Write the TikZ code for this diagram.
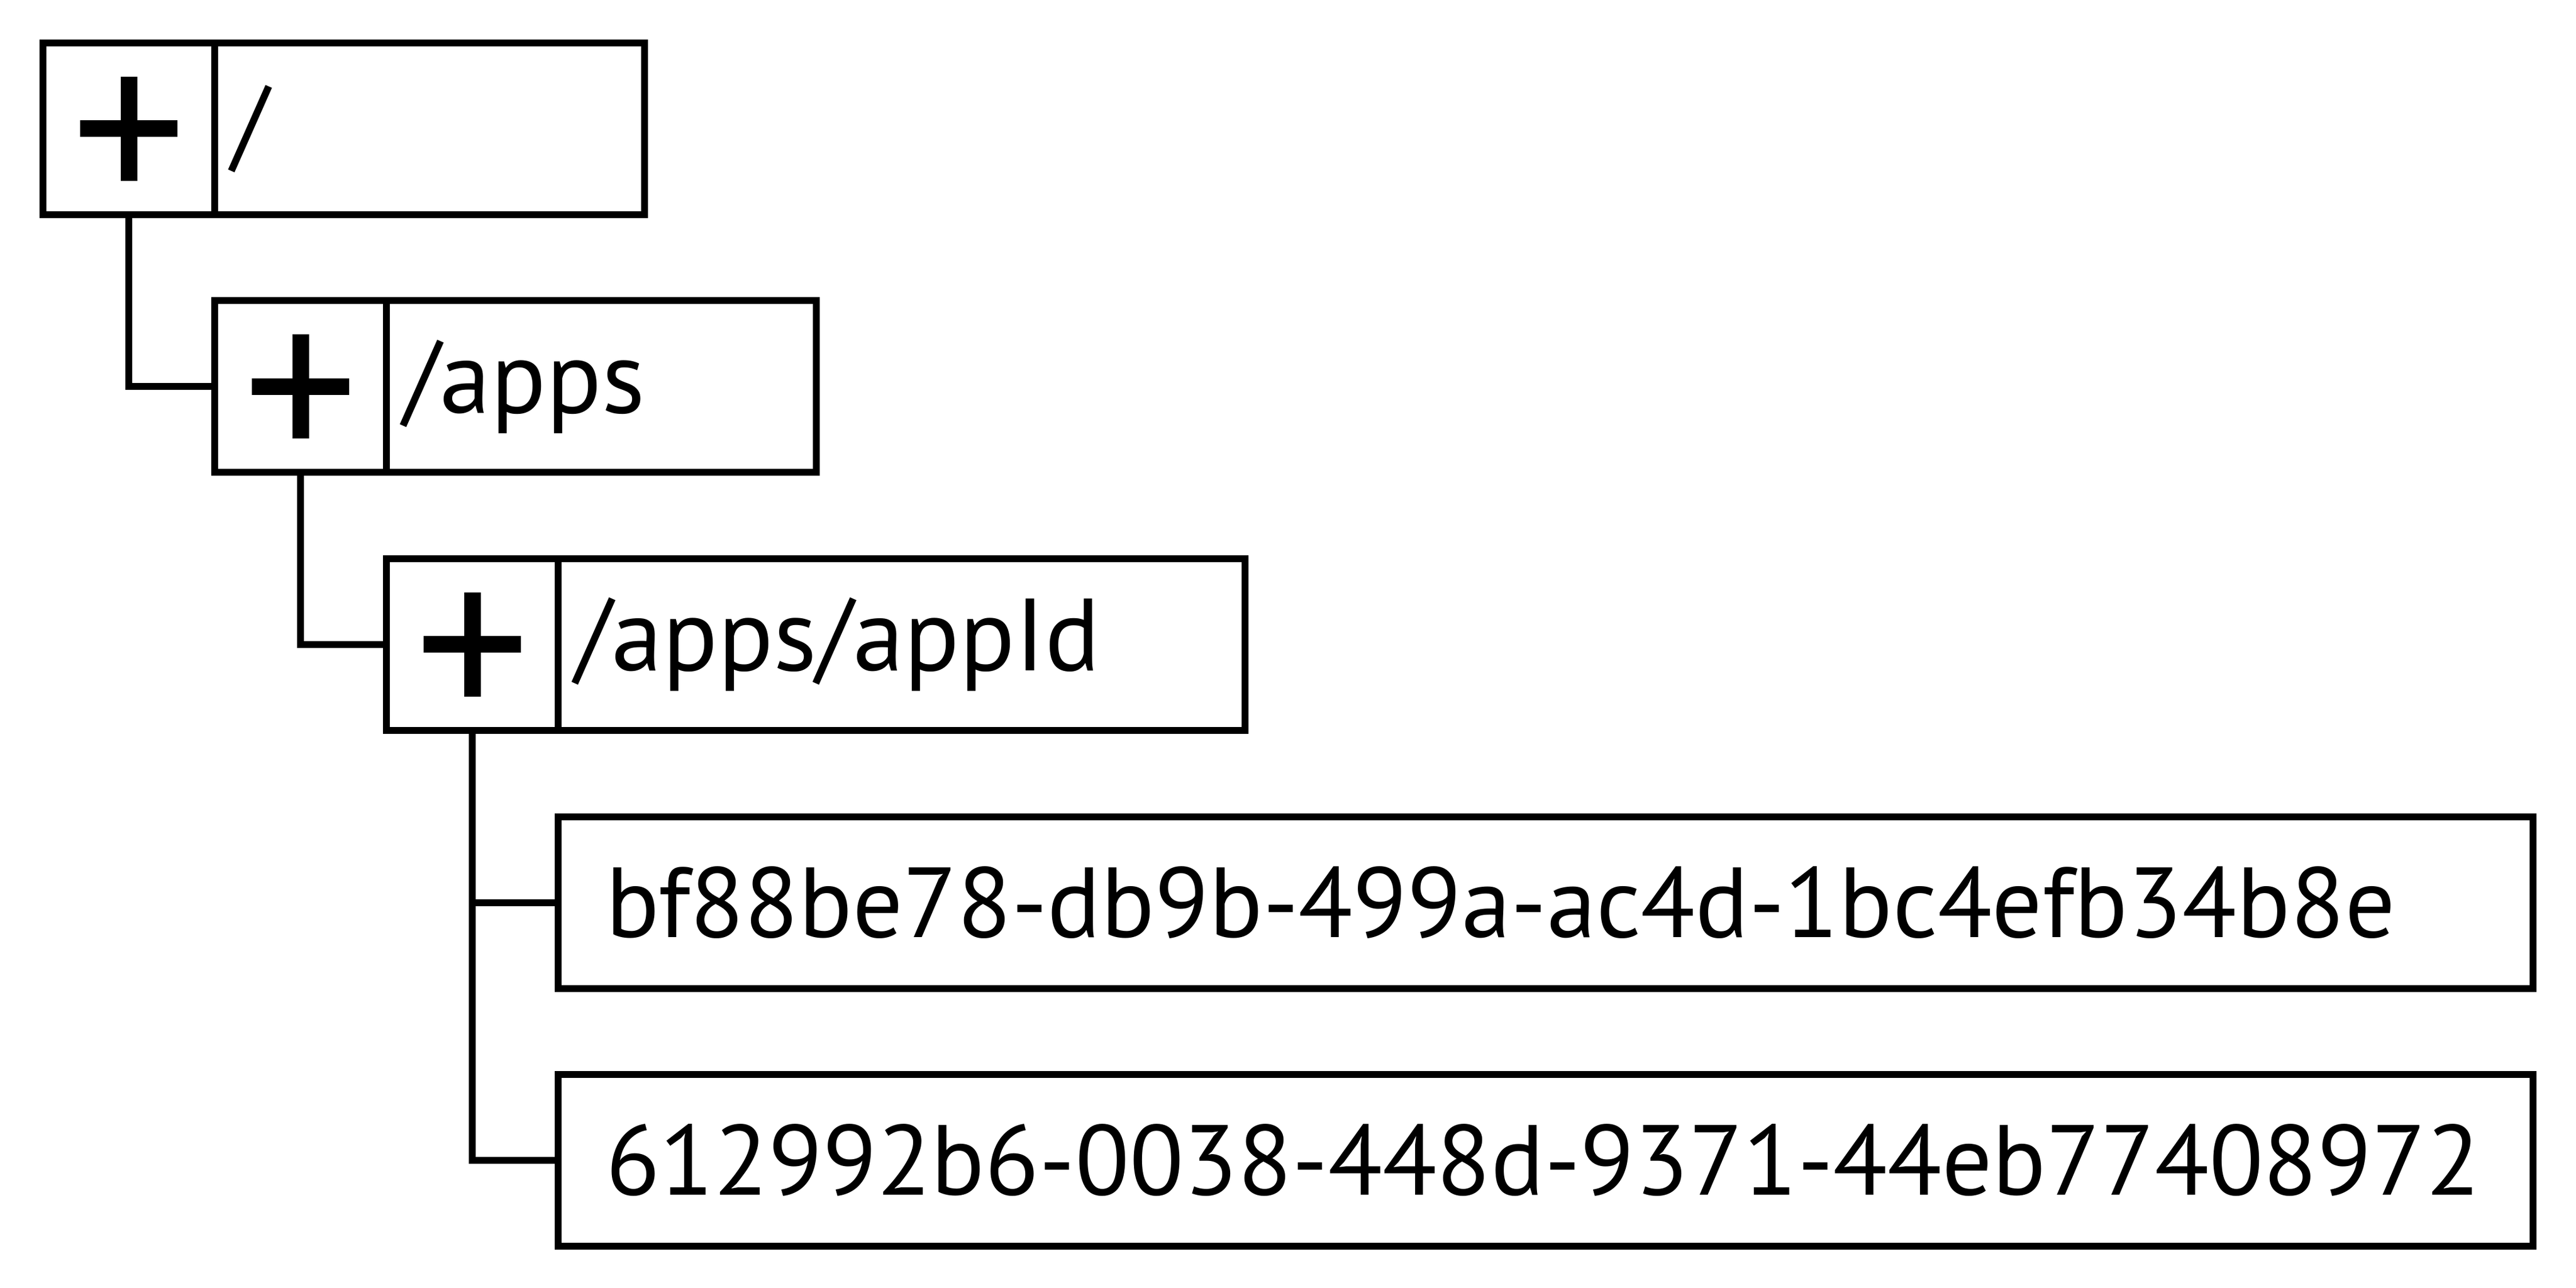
\documentclass[tikz,border=0pt]{standalone}
\usepackage{fontspec}
\setmainfont{PT Sans}
\usetikzlibrary{positioning}
\exhyphenpenalty=10000

\begin{document}
\begin{tikzpicture}[
    box/.style = {draw, line width=1.2mm, outer sep=0pt, inner sep=0pt,
        minimum height=3cm, font=\fontsize{51}{60}\selectfont},
    plusbox/.style = {box, minimum width=3cm, path picture={
        \draw[line width=2.9mm] ([yshift=9.1mm]path picture bounding box.center)
            -- ([yshift=-9.1mm]path picture bounding box.center);
        \draw[line width=2.9mm] ([xshift=-8.5mm]path picture bounding box.center)
            -- ([xshift=8.5mm]path picture bounding box.center);}},
    pathbox/.style = {box, text width=#1, align=left, inner xsep=3mm},
    idbox/.style = {box, text width=32.84cm, align=left, inner xsep=8.3mm,
        font=\fontsize{49.5}{60}\selectfont},
    link/.style = {line width=1.2mm}
]
    \useasboundingbox (0,0) rectangle (45,-22.5);
    \node[plusbox] (rootplus) at (2.25,-2.25) {};
    \node[pathbox=6.91cm, right=0pt of rootplus] (root) {/};
    \node[plusbox] (appsplus) at (5.25,-6.755) {};
    \node[pathbox=6.91cm, right=0pt of appsplus] (apps) {/apps};
    \node[plusbox] (appidplus) at (8.25,-11.26) {};
    \node[pathbox=11.4cm, right=0pt of appidplus] (appid) {/apps/appId};
    \node[idbox] (idone) at (27,-15.765) {bf88be78-db9b-499a-ac4d-1bc4efb34b8e};
    \node[idbox] (idtwo) at (27,-20.27) {612992b6-0038-448d-9371-44eb77408972};
    \draw[link] (rootplus.south) |- (appsplus.west);
    \draw[link] (appsplus.south) |- (appidplus.west);
    \draw[link] (appidplus.south) |- (idone.west);
    \draw[link] (appidplus.south) |- (idtwo.west);
\end{tikzpicture}
\end{document}
